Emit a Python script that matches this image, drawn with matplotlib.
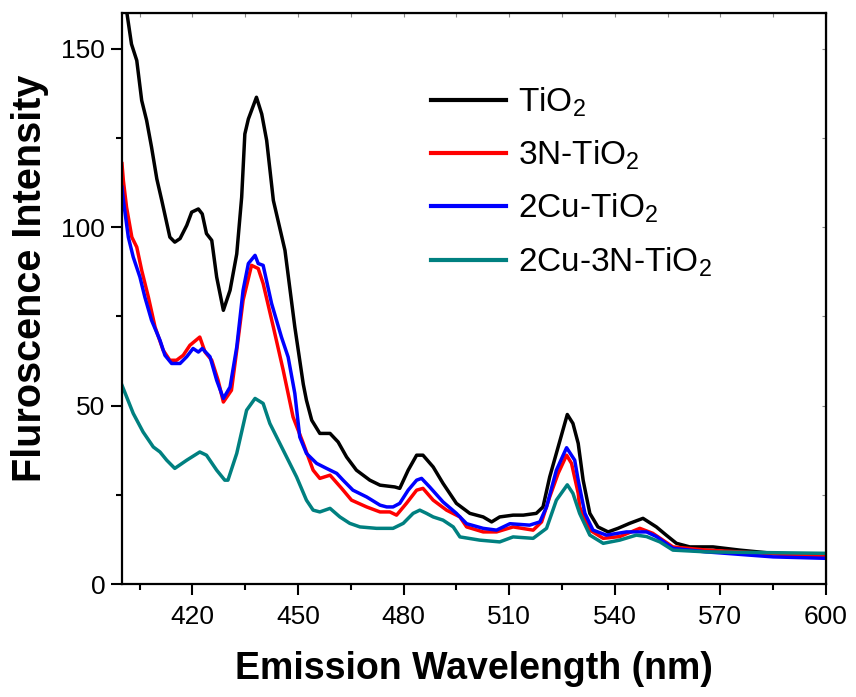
import matplotlib
matplotlib.use("Agg")
import matplotlib.pyplot as plt
from matplotlib.ticker import MultipleLocator

plt.rcParams['font.family'] = ['Liberation Sans', 'DejaVu Sans']
plt.rcParams['mathtext.fontset'] = 'custom'
plt.rcParams['mathtext.rm'] = 'Liberation Sans'
plt.rcParams['mathtext.it'] = 'Liberation Sans'
plt.rcParams['mathtext.bf'] = 'Liberation Sans:bold'

# ---- data ----
tio2_x = [400, 401.4, 402.7, 404.2, 405.6, 407, 408.4, 409.9, 411.3, 413.6, 415, 416.5, 418.4, 419.8,
          421.7, 422.8, 424, 425.5, 426.9, 428.8, 430.7, 432.6, 434, 434.9, 435.9, 438.2, 439.7, 441.1,
          443, 446.3, 449.1, 451.5, 452.4, 453.9, 456.2, 459.1, 461.4, 463.8, 466.6, 470.4, 473.3, 477.5,
          478.9, 481.3, 483.7, 485.5, 488.4, 491.2, 495, 498.8, 502.6, 505, 507.3, 511.1, 514, 517.7,
          519.6, 521.5, 523.9, 526.5, 528.1, 529.6, 531, 532.9, 535.2, 538.1, 540.9, 544.2, 548, 551.8,
          554.6, 557.5, 561.3, 567.9, 575.5, 584.9, 600]
tio2_y = [168, 160, 151.3, 146.7, 135.5, 129.9, 122.4, 113.5, 107.5, 97.2, 95.8, 96.8, 100.5, 104.2,
          105.1, 103.7, 98.2, 96.3, 86, 76.7, 82.3, 92.5, 108.4, 126.1, 130.3, 136.4, 131.7, 124.3,
          107.5, 93.5, 72, 56, 51.5, 45.9, 42.2, 42.2, 39.8, 35.6, 31.9, 29.1, 27.7, 27.2,
          26.8, 31.9, 36.1, 36.1, 32.8, 28.2, 22.6, 19.8, 18.8, 17.4, 18.8, 19.3, 19.3, 19.8,
          21.6, 30, 38.4, 47.5, 45, 39.4, 29.1, 19.8, 16, 14.6, 15.6, 17, 18.4, 16,
          13.7, 11.4, 10.4, 10.4, 9.5, 8.6, 8.1]

n3_x = [400, 400.4, 401.3, 402.8, 404.2, 405.6, 407.5, 409.4, 411.7, 413.6, 415.5, 417.4, 419.3, 422.1,
        423.6, 425.5, 427.3, 428.8, 431.1, 432.6, 434.4, 436.8, 438.7, 440.1, 443, 445.8, 448.6, 451.5,
        454.3, 456.2, 459.1, 462.4, 465.2, 469.5, 473.3, 476.1, 478, 480.8, 483.7, 485.5, 488.4, 492.2,
        496, 497.9, 502.6, 506.4, 511.1, 516.8, 519.2, 521.5, 523.9, 526.3, 527.7, 529.6, 530, 532.9,
        536.7, 541.4, 547.1, 550.8, 556.5, 566, 575.5, 600]
n3_y = [117.8, 113, 105.6, 97.2, 94.4, 87.9, 80.4, 72, 65.5, 62.7, 62.7, 64.1, 66.9, 69.2,
        65, 62.7, 57.1, 51, 54.3, 65.5, 79.5, 89.3, 88.4, 84.2, 72, 59.9, 46.8, 39.4,
        31.9, 29.6, 30.5, 26.8, 23.5, 21.6, 20.2, 20.2, 19.3, 22.6, 26.3, 26.8, 23.5, 20.7,
        18.8, 16, 14.6, 14.6, 16, 15.1, 17.4, 24.4, 31, 36.1, 33.8, 25.4, 21.6, 15.1,
        12.8, 13.3, 15.6, 14.2, 10.4, 9.5, 9, 7.6]

cu2_x = [400, 400.4, 401.8, 403.2, 405.1, 406.5, 408.4, 410.8, 412.2, 414.1, 416.5, 418.4, 420.2, 421.7,
         422.8, 425, 426.9, 428.8, 430.7, 432.6, 434.4, 435.9, 437.8, 438.7, 440.1, 442.5, 445.3, 447.2,
         449.1, 450.5, 452.4, 455.3, 458.1, 461, 462.8, 465.6, 469.5, 473.3, 475.2, 477, 478.9, 481.3,
         483.7, 485.1, 487.4, 491.2, 495, 497.9, 502.6, 506.4, 510.2, 515.8, 518.7, 520.6, 523.4, 526.3,
         528.6, 529.6, 531.5, 533.8, 537.6, 543.3, 549, 551.8, 556.5, 566, 585, 600]
cu2_y = [111.2, 107.5, 97.2, 91.6, 86, 80.4, 73.9, 68.3, 64.1, 61.8, 61.8, 63.7, 66, 65,
         66, 63.7, 57.1, 52, 55.2, 66.4, 82.3, 89.8, 92.1, 89.8, 89.3, 78.6, 69.2, 63.6,
         53.4, 41.2, 36.6, 33.8, 32.4, 31, 29.1, 26.3, 24.4, 22.1, 21.6, 21.6, 22.6, 26.3,
         29.1, 29.6, 27.2, 23, 19.8, 16.9, 15.6, 15.1, 16.9, 16.5, 17.4, 21.6, 31.9, 38.2,
         34.7, 29.1, 19.8, 15.1, 13.7, 14.6, 14.6, 13.3, 10, 9, 7.6, 7.2]

cu2n3_x = [400, 403.2, 406, 408.9, 410.8, 412.7, 415, 418.4, 422.1, 424, 426.9, 429.2, 430.1, 432.6,
           435.4, 437.8, 440.1, 442, 445.8, 449.6, 452.4, 454.3, 456.2, 459.1, 461.9, 464.7, 467.6, 472.3,
           477, 479.9, 482.7, 484.6, 486.5, 488.4, 491.2, 494.1, 496, 501.6, 507.3, 511.1, 516.8, 520.6,
           523.4, 526.5, 528.1, 530, 532.9, 536.7, 541.4, 546.1, 549, 552.8, 556.5, 566, 600]
cu2n3_y = [55.7, 47.8, 42.6, 38.4, 37, 34.7, 32.4, 34.7, 37, 36.1, 31.9, 29.1, 29.1, 36.6,
           48.7, 52, 50.6, 45, 37.5, 30, 23.5, 20.7, 20.2, 21.2, 18.8, 17, 16, 15.6,
           15.6, 17, 19.8, 20.7, 19.8, 18.8, 17.9, 16, 13.2, 12.3, 11.8, 13.2, 12.8, 15.6,
           23.5, 27.8, 25.4, 19.8, 13.7, 11.4, 12.3, 13.7, 13.3, 11.8, 9.5, 9, 8.6]

series_labels = ['TiO$_2$', '3N-TiO$_2$', '2Cu-TiO$_2$', '2Cu-3N-TiO$_2$']
series_colors = ['#000000', '#ff0000', '#0000ff', '#008080']
x_ticks = [420, 450, 480, 510, 540, 570, 600]
y_ticks = [0, 50, 100, 150]

fig = plt.figure(figsize=(8.56, 6.97), dpi=100)
ax = fig.add_axes([0.1425, 0.1621, 0.8225, 0.8192])

series = [(tio2_x, tio2_y), (n3_x, n3_y), (cu2_x, cu2_y), (cu2n3_x, cu2n3_y)]
for (xs, ys), lab, col in zip(series, series_labels, series_colors):
    ax.plot(xs, ys, color=col, lw=2.5, label=lab, solid_joinstyle='round')

ax.set_xlim(400, 600)
ax.set_ylim(0, 160)
ax.set_xticks(x_ticks)
ax.set_yticks(y_ticks)
ax.xaxis.set_minor_locator(MultipleLocator(15))
ax.yaxis.set_minor_locator(MultipleLocator(25))
ax.tick_params(axis='both', which='major', direction='out', length=8, width=1.5,
               labelsize=19, top=False, right=False)
ax.tick_params(axis='both', which='minor', direction='out', length=4, width=1.5,
               top=False, right=False)
ax.tick_params(axis='x', pad=7)
ax.tick_params(axis='y', pad=4)
for s in ax.spines.values():
    s.set_linewidth(1.6)

# faint inward ticks on top/right
axt = ax.secondary_xaxis('top')
axt.set_xticks([405 + 15 * i for i in range(14)])
axt.tick_params(direction='in', length=3, width=0.8, color='#888888', labeltop=False)
axt.set_xticklabels([])
axr = ax.secondary_yaxis('right')
axr.set_yticks([25 * i for i in range(7)])
axr.tick_params(direction='in', length=3, width=0.8, color='#888888')
axr.set_yticklabels([])

ax.set_xlabel('Emission Wavelength (nm)', fontsize=27, fontweight='bold', labelpad=16)
ax.set_ylabel('Fluroscence Intensity', fontsize=28.5, fontweight='bold', labelpad=9)
ax.yaxis.label.set_y(0.535)

leg = ax.legend(loc='upper left', bbox_to_anchor=(0.42, 0.897), frameon=False, fontsize=24,
                handlelength=2.25, handletextpad=0.35, labelspacing=0.6, borderaxespad=0)
for h in leg.get_lines():
    h.set_linewidth(3.0)

fig.savefig('out.png', dpi=100)
